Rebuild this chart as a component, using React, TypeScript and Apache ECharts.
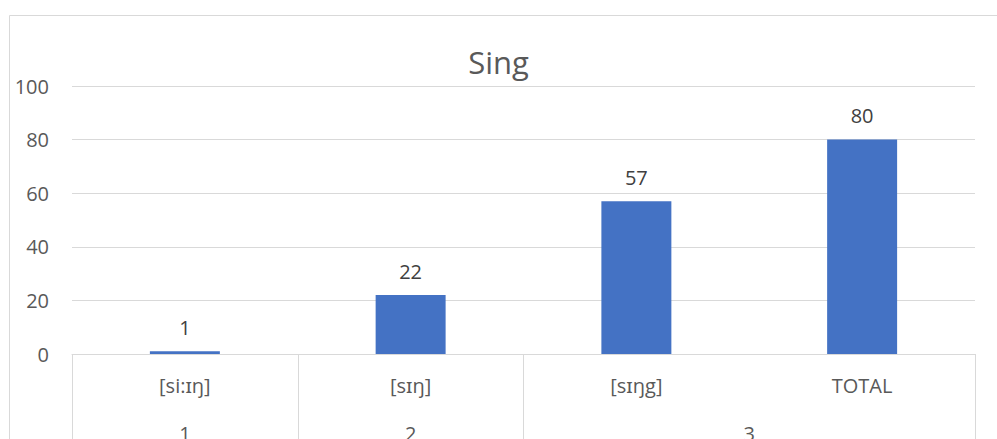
import React, { useEffect, useRef } from "react";
import * as echarts from "echarts";

// Pronunciation variants of "sing" and their counts
const categories = ["[si:ɪŋ]", "[sɪŋ]", "[sɪŋg]", "TOTAL"];
const values = [1, 22, 57, 80];
// Second-level group labels and where they sit on the category scale
const groupLabels = ["1", "2", "3"];
const groupCenters = [0.5, 1.5, 3];
const groupBoundaries = [0, 1, 2, 4];
const yTicks = { min: 0, max: 100, interval: 20 };

const FONT = "'Segoe UI', 'Open Sans', 'Noto Sans', sans-serif";
const TEXT = "#595959";
const GRID = "#D9D9D9";
const LABEL_SIZE = 20;

export default function App() {
  const ref = useRef<HTMLDivElement>(null);

  useEffect(() => {
    if (!ref.current) return;
    const chart = echarts.init(ref.current, undefined, { renderer: "svg" });
    chart.setOption({
      animation: false,
      textStyle: { fontFamily: FONT },
      title: {
        text: "Sing",
        left: "center",
        top: 41,
        textStyle: { fontFamily: FONT, fontSize: 31, fontWeight: "normal", color: TEXT },
      },
      graphic: [
        {
          type: "rect",
          shape: { x: 9.5, y: 15.5, width: 1100, height: 600 },
          style: { fill: "none", stroke: GRID, lineWidth: 1 },
          silent: true,
        },
      ],
      grid: {
        left: 72,
        right: 22,
        top: 86,
        bottom: 85,
        containLabel: false,
        outerBoundsMode: "none",
      },
      xAxis: [
        {
          type: "category",
          data: categories,
          axisLine: { lineStyle: { color: GRID } },
          axisTick: { show: false },
          axisLabel: { color: TEXT, fontSize: LABEL_SIZE, fontFamily: FONT, margin: 21 },
        },
        {
          type: "value",
          position: "bottom",
          min: 0,
          max: groupBoundaries[groupBoundaries.length - 1],
          axisLine: { show: false },
          splitLine: { show: false },
          axisTick: {
            show: true,
            customValues: groupBoundaries,
            length: 90,
            lineStyle: { color: GRID },
          },
          axisLabel: {
            customValues: groupCenters,
            color: TEXT,
            fontSize: LABEL_SIZE,
            fontFamily: FONT,
            margin: 69,
            formatter: (v: number) => groupLabels[groupCenters.indexOf(v)] ?? "",
          },
        },
      ],
      yAxis: {
        type: "value",
        min: yTicks.min,
        max: yTicks.max,
        interval: yTicks.interval,
        axisLine: { show: false },
        axisTick: { show: false },
        splitLine: { lineStyle: { color: GRID } },
        axisLabel: { color: TEXT, fontSize: LABEL_SIZE, fontFamily: FONT, margin: 23 },
      },
      series: [
        {
          type: "bar",
          xAxisIndex: 0,
          data: values,
          barWidth: "31%",
          itemStyle: { color: "#4472C4" },
          label: {
            show: true,
            position: "top",
            distance: 14,
            color: "#404040",
            fontSize: LABEL_SIZE,
            fontFamily: FONT,
          },
        },
      ],
    });
    return () => chart.dispose();
  }, []);

  return (
    <div
      ref={ref}
      style={{ position: "absolute", left: 0, top: 0, width: 997, height: 439, background: "#fff" }}
    />
  );
}
